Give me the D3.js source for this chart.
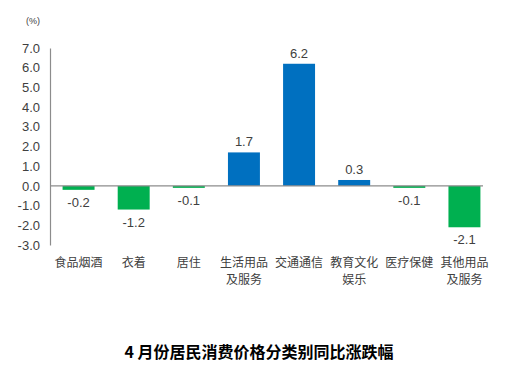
<!DOCTYPE html>
<html>
<head>
<meta charset="utf-8">
<script src="https://cdn.jsdelivr.net/npm/d3@7"></script>
<style>
  body { margin: 0; background: #fff; }
  text { font-family: "Liberation Sans", Arial, "Noto Sans CJK SC", sans-serif; }
</style>
</head>
<body>
<div id="chart"></div>
<script>
// data
const categories = ["食品烟酒", "衣着", "居住", "生活用品\n及服务", "交通通信", "教育文化\n娱乐", "医疗保健", "其他用品\n及服务"];
const values = [-0.2, -1.2, -0.1, 1.7, 6.2, 0.3, -0.1, -2.1];
const yTicks = [7, 6, 5, 4, 3, 2, 1, 0, -1, -2, -3];
const title = "4 月份居民消费价格分类别同比涨跌幅";

const width = 509, height = 376;

// hyphen minus like the original
const fmt = d3.formatLocale({ decimal: ".", thousands: ",", grouping: [3], currency: ["", ""], minus: "-" }).format(".1f");

const svg = d3.select("#chart")
    .append("svg")
    .attr("width", width)
    .attr("height", height);

// scales
const x = d3.scaleBand()
    .domain(categories)
    .range([51, 492])
    .paddingInner(0.42)
    .paddingOuter(0.21);

const y = d3.scaleLinear()
    .domain([-3, 7])
    .range([245, 48]);

// y axis
const yAxis = d3.axisLeft(y)
    .tickValues(yTicks)
    .tickFormat(fmt)
    .tickSize(0)
    .tickPadding(10);

const yAxisG = svg.append("g")
    .attr("transform", "translate(50,0)")
    .call(yAxis);
yAxisG.select(".domain").attr("stroke", "#8c8c8c").attr("stroke-width", 1.2);
yAxisG.selectAll("text")
    .attr("font-size", 13)
    .attr("fill", "#404040");

// unit
svg.append("text")
    .attr("x", 33)
    .attr("y", 24)
    .attr("text-anchor", "middle")
    .attr("font-size", 9)
    .attr("fill", "#404040")
    .text("(%)");

// bars
svg.selectAll(".bar")
    .data(values)
    .enter()
    .append("rect")
    .attr("class", "bar")
    .attr("x", (d, i) => x(categories[i]))
    .attr("width", x.bandwidth())
    .attr("y", d => y(Math.max(0, d)))
    .attr("height", d => Math.abs(y(d) - y(0)))
    .attr("fill", d => d >= 0 ? "#0070C0" : "#00B050");

// zero line
svg.append("line")
    .attr("x1", 50)
    .attr("x2", 483)
    .attr("y1", y(0))
    .attr("y2", y(0))
    .attr("stroke", "#8c8c8c")
    .attr("stroke-width", 1.2);

// value labels
svg.selectAll(".val")
    .data(values)
    .enter()
    .append("text")
    .attr("class", "val")
    .attr("x", (d, i) => x(categories[i]) + x.bandwidth() / 2)
    .attr("y", d => d >= 0 ? y(d) - 6 : y(d) + 17)
    .attr("text-anchor", "middle")
    .attr("font-size", 13)
    .attr("fill", "#404040")
    .text(d => fmt(d));

// category labels, one text per line
categories.forEach(c => {
    c.split("\n").forEach((l, j) => {
        svg.append("text")
            .attr("class", "cat")
            .attr("x", x(c) + x.bandwidth() / 2)
            .attr("y", 267 + j * 17)
            .attr("text-anchor", "middle")
            .attr("font-size", 12)
            .attr("fill", "#404040")
            .style("font-family", "'Noto Sans CJK SC', sans-serif")
            .text(l);
    });
});

// title
svg.append("text")
    .attr("x", 259)
    .attr("y", 358)
    .attr("text-anchor", "middle")
    .attr("font-size", 16)
    .attr("font-weight", "bold")
    .attr("fill", "#000")
    .style("font-family", "'Noto Sans CJK SC', sans-serif")
    .text(title);
</script>
</body>
</html>
